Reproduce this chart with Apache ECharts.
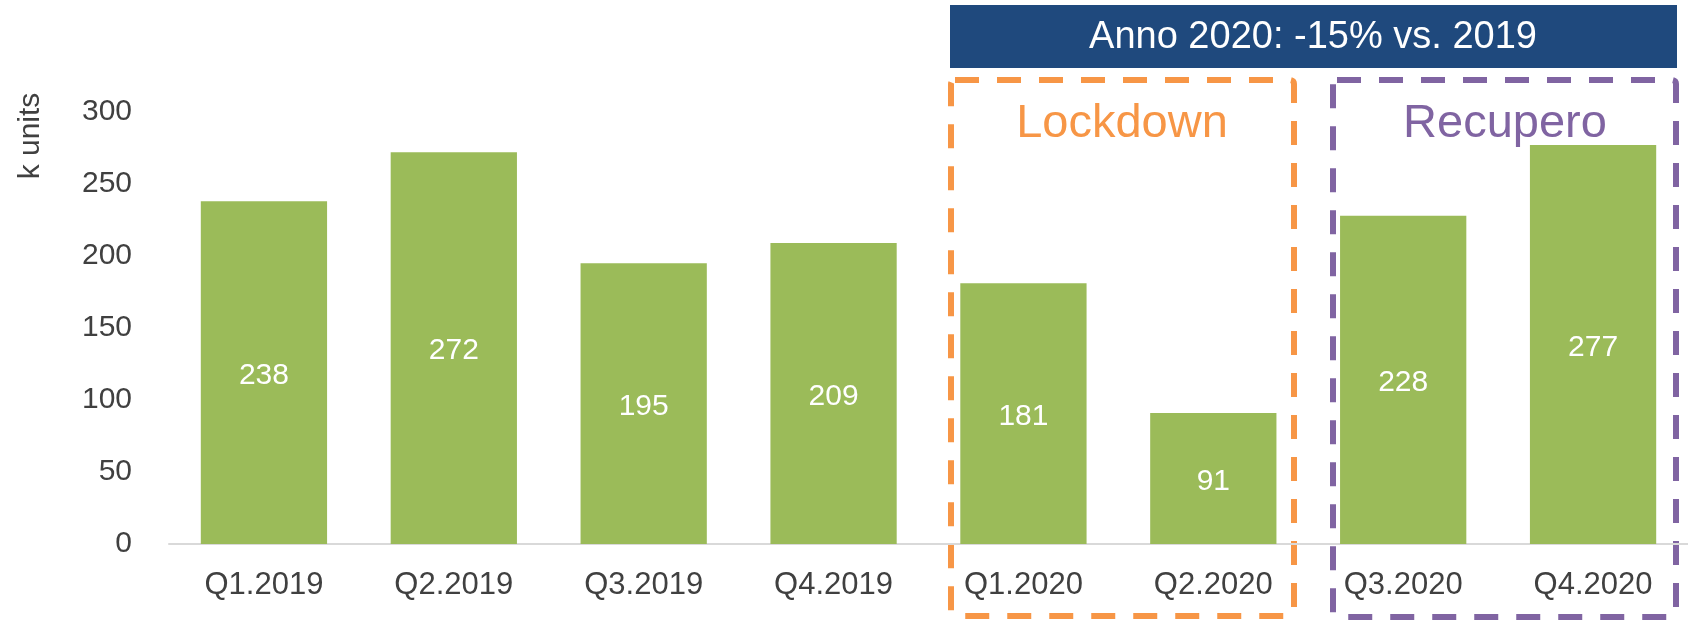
<!DOCTYPE html>
<html>
<head>
<meta charset="utf-8">
<title>k units per trimestre</title>
<script src="https://cdn.jsdelivr.net/npm/echarts@6/dist/echarts.min.js"></script>
<style>
  html, body { margin: 0; padding: 0; background: #fff; }
  #chart { width: 1688px; height: 622px; }
</style>
</head>
<body>
<div id="chart"></div>
<script>
// data
var quarters = ['Q1.2019', 'Q2.2019', 'Q3.2019', 'Q4.2019', 'Q1.2020', 'Q2.2020', 'Q3.2020', 'Q4.2020'];
var units = [238, 272, 195, 209, 181, 91, 228, 277];
var yTicks = [0, 50, 100, 150, 200, 250, 300];
var unitLabel = 'k units';
var bannerText = 'Anno 2020: -15% vs. 2019';
var phaseNames = ['Lockdown', 'Recupero'];

var font = "'Liberation Sans', Arial, sans-serif";
var textGrey = '#404040';

var chart = echarts.init(document.getElementById('chart'));
chart.setOption({
    animation: false,
    grid: {
        left: 169,
        top: 112,
        width: 1528,
        height: 432
    },
    xAxis: {
        type: 'category',
        data: quarters,
        axisLine: { lineStyle: { color: '#d9d9d9', width: 2 } },
        axisTick: { show: false },
        axisLabel: {
            color: textGrey,
            fontSize: 31,
            fontFamily: font,
            margin: 26
        }
    },
    yAxis: {
        type: 'value',
        min: yTicks[0],
        max: yTicks[yTicks.length - 1],
        interval: 50,
        splitLine: { show: false },
        axisLine: { show: false },
        axisTick: { show: false },
        axisLabel: {
            color: textGrey,
            fontSize: 30,
            fontFamily: font,
            margin: 37
        }
    },
    series: [
        {
            type: 'bar',
            data: units,
            barCategoryGap: '33.5%',
            itemStyle: { color: '#9BBB59' },
            label: {
                show: true,
                position: 'inside',
                offset: [0, 3],
                color: '#fff',
                fontSize: 30,
                fontFamily: font
            }
        }
    ],
    graphic: [
        {
            type: 'text',
            x: 31,
            y: 136,
            rotation: Math.PI / 2,
            style: {
                text: unitLabel,
                fill: textGrey,
                font: '30px ' + font,
                align: 'center',
                verticalAlign: 'middle'
            }
        },
        // banner above the 2020 quarters
        {
            type: 'rect',
            shape: { x: 950, y: 5, width: 727, height: 63 },
            style: { fill: '#1F497D' }
        },
        {
            type: 'text',
            x: 1313,
            y: 38,
            style: {
                text: bannerText,
                fill: '#fff',
                font: '38px ' + font,
                align: 'center',
                verticalAlign: 'middle'
            }
        },
        // dashed boxes
        {
            type: 'rect',
            shape: { x: 951, y: 80, width: 343, height: 536, r: 4 },
            style: { fill: null, stroke: '#F79646', lineWidth: 6, lineDash: [24, 18] }
        },
        {
            type: 'rect',
            shape: { x: 1333, y: 80, width: 343, height: 537, r: 4 },
            style: { fill: null, stroke: '#8064A2', lineWidth: 6, lineDash: [24, 18] }
        },
        {
            type: 'text',
            x: 1122,
            y: 124,
            style: {
                text: phaseNames[0],
                fill: '#F79646',
                font: '47px ' + font,
                align: 'center',
                verticalAlign: 'middle'
            }
        },
        {
            type: 'text',
            x: 1505,
            y: 124,
            style: {
                text: phaseNames[1],
                fill: '#8064A2',
                font: '47px ' + font,
                align: 'center',
                verticalAlign: 'middle'
            }
        }
    ]
});
</script>
</body>
</html>
